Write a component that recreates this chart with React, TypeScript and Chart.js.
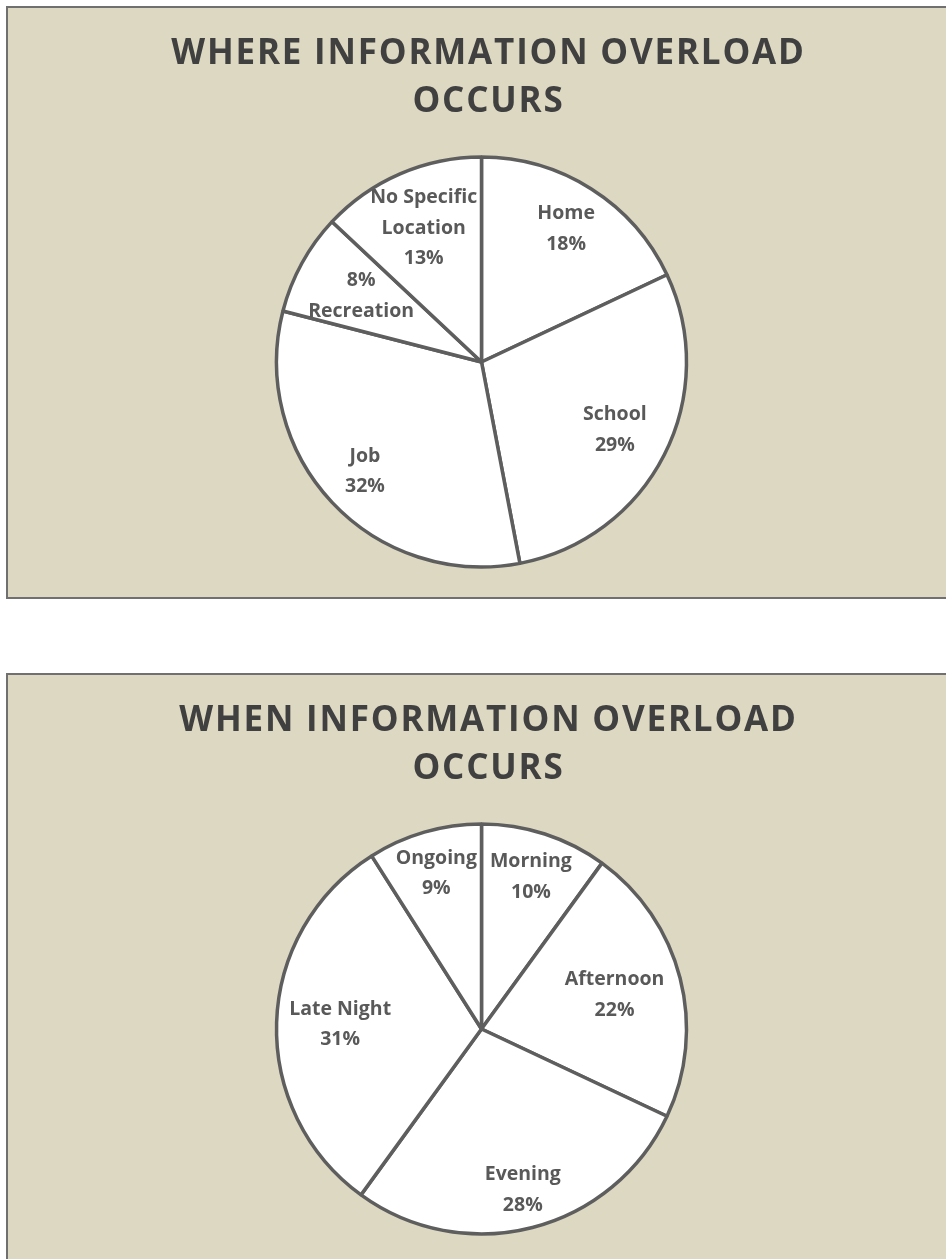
import React, { useEffect, useRef } from "react";
import { Chart, registerables } from "chart.js";

Chart.register(...registerables);

// ---- data ----
const locationCategories = ["Home", "School", "Job", "Recreation", "No Specific Location"];
const locationValues = [18, 29, 32, 8, 13];
const locationLabelLines = [["Home", "{p}"], ["School", "{p}"], ["Job", "{p}"], ["{p}", "Recreation"], ["No Specific", "Location", "{p}"]];
const locationTitle = ["WHERE INFORMATION OVERLOAD", "OCCURS"];

const timeCategories = ["Morning", "Afternoon", "Evening", "Late Night", "Ongoing"];
const timeValues = [10, 22, 28, 31, 9];
const timeLabelLines = [["Morning", "{p}"], ["Afternoon", "{p}"], ["Evening", "{p}"], ["Late Night", "{p}"], ["Ongoing", "{p}"]];
const timeTitle = ["WHEN INFORMATION OVERLOAD", "OCCURS"];

// label placement (fraction of radius), style only
const locationLabelRadius = [0.77, 0.73, 0.78, 0.67, 0.71];
const timeLabelRadius = [0.78, 0.67, 0.81, 0.69, 0.79];

const FONT = "'Open Sans', 'DejaVu Sans', sans-serif";
const BG = "#DDD8C2";
const TITLE_SHIFT_X = 7;

type PanelProps = {
  title: string[];
  categories: string[];
  values: number[];
  labelLines: string[][];
  labelRadius: number[];
  top: number;
};

function PiePanel({ title, categories, values, labelLines, labelRadius, top }: PanelProps) {
  const ref = useRef<HTMLCanvasElement | null>(null);
  useEffect(() => {
    if (!ref.current) return;
    const total = values.reduce((a, b) => a + b, 0);
    const labelPlugin = {
      id: "sliceLabels",
      beforeDraw(chart: any) {
        chart.ctx.letterSpacing = "1.8px";
        chart.ctx.translate(TITLE_SHIFT_X, 0);
      },
      beforeDatasetsDraw(chart: any) {
        chart.ctx.translate(-TITLE_SHIFT_X, 0);
      },
      afterDatasetsDraw(chart: any) {
        const ctx = chart.ctx;
        ctx.save();
        ctx.letterSpacing = "0px";
        ctx.font = `bold 19.5px ${FONT}`;
        ctx.fillStyle = "#595959";
        ctx.textAlign = "center";
        ctx.textBaseline = "middle";
        const meta = chart.getDatasetMeta(0);
        meta.data.forEach((arc: any, i: number) => {
          const p = arc.getProps(["startAngle", "endAngle", "x", "y", "outerRadius"], true);
          const mid = (p.startAngle + p.endAngle) / 2;
          const r = p.outerRadius * labelRadius[i];
          const cx = p.x + Math.cos(mid) * r;
          const cy = p.y + Math.sin(mid) * r;
          const pct = Math.round((values[i] / total) * 100) + "%";
          const lines = labelLines[i].map((l) => l.replace("{p}", pct));
          const lh = 30.5;
          const startY = cy - ((lines.length - 1) * lh) / 2;
          lines.forEach((l, k) => ctx.fillText(l, cx, startY + k * lh));
        });
        ctx.restore();
      },
    };
    const chart = new Chart(ref.current, {
      type: "pie",
      data: {
        labels: categories,
        datasets: [
          {
            data: values,
            backgroundColor: "#FFFFFF",
            borderColor: "#5E5E5E",
            borderWidth: 3.5,
          },
        ],
      },
      options: {
        responsive: false,
        animation: false,
        radius: 205,
        layout: { padding: { left: 7, right: 0, top: 0, bottom: 6 } },
        plugins: {
          legend: { display: false },
          tooltip: { enabled: false },
          title: {
            display: true,
            text: title,
            color: "#404040",
            font: { family: FONT, size: 35, weight: "bold", lineHeight: 48 / 35 },
            padding: { top: 22, bottom: 7 },
          },
        },
      } as any,
      plugins: [labelPlugin],
    });
    return () => chart.destroy();
  }, []);
  return (
    <div
      style={{
        position: "absolute",
        left: 6,
        top,
        width: 940,
        height: 589,
        background: BG,
        border: "2px solid #707070",
      }}
    >
      <canvas ref={ref} width={940} height={589} style={{ display: "block" }} />
    </div>
  );
}

export default function App() {
  useEffect(() => {
    document.body.style.margin = "0";
    document.body.style.overflow = "hidden";
  }, []);
  return (
    <div style={{ position: "relative", width: 946, height: 1259, overflow: "hidden", background: "#FFFFFF" }}>
      <PiePanel
        title={locationTitle}
        categories={locationCategories}
        values={locationValues}
        labelLines={locationLabelLines}
        labelRadius={locationLabelRadius}
        top={6}
      />
      <PiePanel
        title={timeTitle}
        categories={timeCategories}
        values={timeValues}
        labelLines={timeLabelLines}
        labelRadius={timeLabelRadius}
        top={673}
      />
    </div>
  );
}
